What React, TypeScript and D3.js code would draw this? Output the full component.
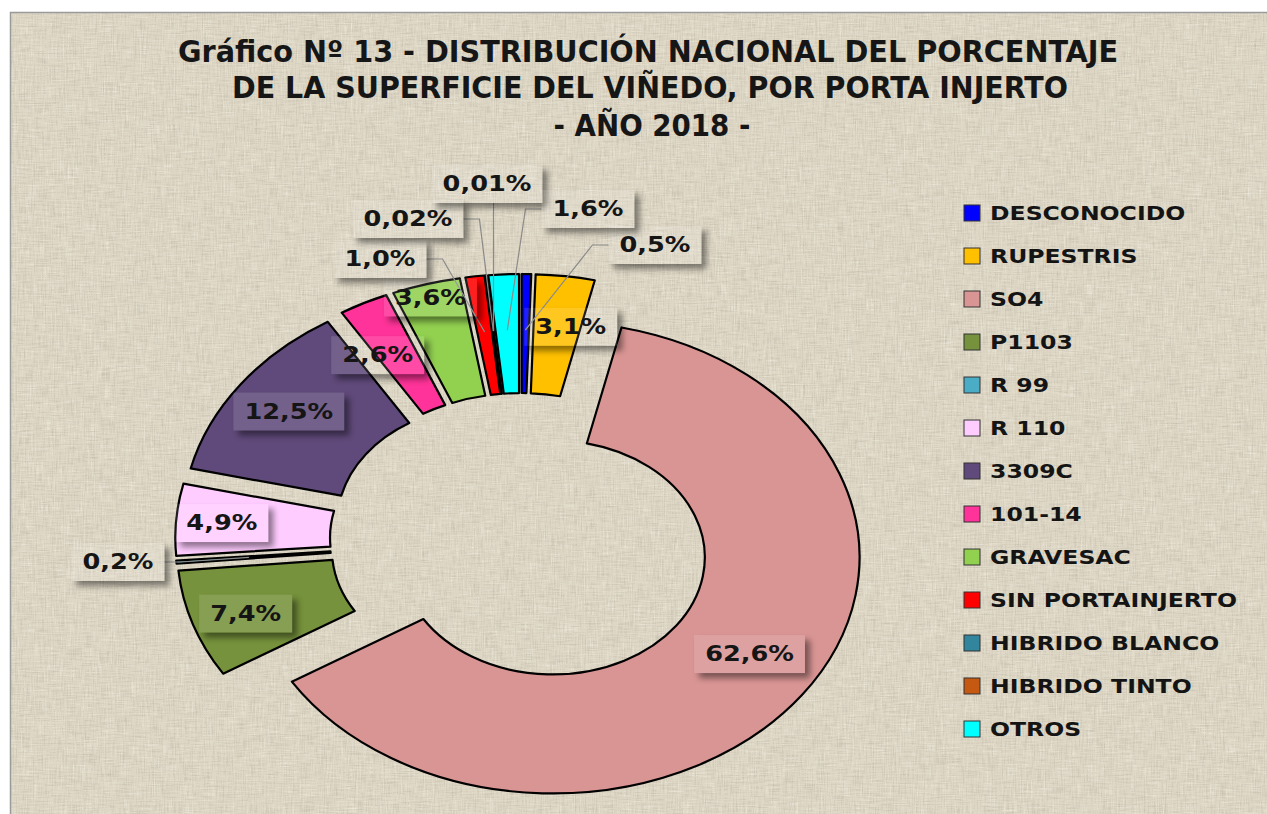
import React from 'react';
import * as d3 from 'd3';

// --- data ---
const categories = [
  'DESCONOCIDO',
  'RUPESTRIS',
  'SO4',
  'P1103',
  'R 99',
  'R 110',
  '3309C',
  '101-14',
  'GRAVESAC',
  'SIN PORTAINJERTO',
  'HIBRIDO BLANCO',
  'HIBRIDO TINTO',
  'OTROS',
];
const shares = [0.5, 3.1, 62.6, 7.4, 0.2, 4.9, 12.5, 2.6, 3.6, 1.0, 0.02, 0.01, 1.6];
const shareLabels = ['0,5%', '3,1%', '62,6%', '7,4%', '0,2%', '4,9%', '12,5%', '2,6%', '3,6%', '1,0%', '0,02%', '0,01%', '1,6%'];
const sliceColors = [
  '#0000ff',
  '#ffc000',
  '#d99594',
  '#76923c',
  '#4bacc6',
  '#ffccff',
  '#604a7b',
  '#ff3399',
  '#92d050',
  '#ff0000',
  '#31859c',
  '#c65911',
  '#00ffff',
];
const titleLines = [
  'Gráfico Nº 13 - DISTRIBUCIÓN NACIONAL  DEL PORCENTAJE',
  'DE LA SUPERFICIE DEL VIÑEDO, POR PORTA INJERTO',
  '- AÑO 2018 -',
];

// --- layout ---
const W = 1267;
const H = 814;
const cx = 521;
const cy = 540;
const rOuter = 236;
const rInner = 117;
const kx = 1.3; // horizontal stretch of the original picture
const explode = 30;
const labelR = 190;
const anchorR = 180;
const textStretch = 1.22;

// labels dragged outside the ring (centre of the text)
const calloutPos: Record<string, [number, number]> = {
  'DESCONOCIDO': [655, 245],
  'R 99': [118, 562],
  'SIN PORTAINJERTO': [380, 259],
  'HIBRIDO BLANCO': [408, 219],
  'HIBRIDO TINTO': [487, 184],
  'OTROS': [588, 209],
};
// small nudges of the labels kept on the slices
const labelNudge: Record<string, [number, number]> = {
  'RUPESTRIS': [13, 5],
  'SO4': [-4, -14],
  'R 110': [-14, 0],
  '101-14': [-13, 11],
  'GRAVESAC': [-12, -31],
  'P1103': [-4, 4],
};

const labelFont = 'bold 21px "DejaVu Sans"';
let ctx: CanvasRenderingContext2D | null = null;
function measure(text: string, font: string) {
  if (!ctx) ctx = document.createElement('canvas').getContext('2d');
  if (!ctx) return text.length * 12;
  ctx.font = font;
  return ctx.measureText(text).width;
}

export default function App() {
  const pie = d3
    .pie<number>()
    .sort(null)
    .value((d) => d)
    .startAngle(0)
    .endAngle(2 * Math.PI);
  const arcs = pie(shares);
  const arcGen = d3
    .arc<d3.PieArcDatum<number>>()
    .innerRadius(rInner)
    .outerRadius(rOuter);

  const slices = arcs.map((a, i) => {
    const mid = (a.startAngle + a.endAngle) / 2;
    const ox = cx + explode * Math.sin(mid) * kx;
    const oy = cy - explode * Math.cos(mid);
    const at = (r: number) => [ox + r * Math.sin(mid) * kx, oy - r * Math.cos(mid)];
    return { a, i, mid, ox, oy, at, name: categories[i] };
  });

  const labels = slices.map((s) => {
    const text = shareLabels[s.i];
    const tw = measure(text, labelFont) * textStretch;
    const bw = tw + 22;
    const bh = 38;
    const outside = calloutPos[s.name];
    let x: number, y: number;
    if (outside) {
      [x, y] = outside;
    } else {
      [x, y] = s.at(labelR);
      const n = labelNudge[s.name];
      if (n) {
        x += n[0];
        y += n[1];
      }
    }
    let leader: string | null = null;
    if (outside) {
      const [ax, ay] = s.at(anchorR);
      const left = x - bw / 2;
      const right = x + bw / 2;
      if (ax > left && ax < right) {
        leader = `M${ax},${y + bh / 2} L${ax},${ay}`;
      } else if (ax >= right) {
        leader = `M${right},${y} L${right + 16},${y} L${ax},${ay}`;
      } else {
        leader = `M${left},${y} L${left - 16},${y} L${ax},${ay}`;
      }
    }
    return { text, x, y, bw, bh, leader, key: s.name, i: s.i };
  });

  const legendY = d3
    .scalePoint<string>()
    .domain(categories)
    .range([213, 729]);

  return (
    <svg width={W} height={H} style={{ display: 'block', position: 'absolute', left: 0, top: 0 }}>
      <defs>
        <filter id="linenDark" x="0" y="0" width="1" height="1">
          <feTurbulence type="fractalNoise" baseFrequency="0.9 0.06" numOctaves="2" seed="4" result="v" />
          <feTurbulence type="fractalNoise" baseFrequency="0.06 0.9" numOctaves="2" seed="9" result="h" />
          <feComposite in="v" in2="h" operator="arithmetic" k1="0" k2="0.5" k3="0.5" k4="0" result="n" />
          <feColorMatrix
            in="n"
            type="matrix"
            values="0 0 0 0 0.45  0 0 0 0 0.41  0 0 0 0 0.33  2.4 0 0 0 -1.05"
          />
        </filter>
        <filter id="linenLight" x="0" y="0" width="1" height="1">
          <feTurbulence type="fractalNoise" baseFrequency="0.7 0.05" numOctaves="2" seed="12" result="v" />
          <feTurbulence type="fractalNoise" baseFrequency="0.05 0.7" numOctaves="2" seed="21" result="h" />
          <feComposite in="v" in2="h" operator="arithmetic" k1="0" k2="0.5" k3="0.5" k4="0" result="n" />
          <feColorMatrix
            in="n"
            type="matrix"
            values="0 0 0 0 0.99  0 0 0 0 0.97  0 0 0 0 0.91  -2.4 0 0 0 1.2"
          />
        </filter>
        <filter id="blurShadow" x="-30%" y="-50%" width="160%" height="200%">
          <feGaussianBlur stdDeviation="3" />
        </filter>
        {labels.map((l) => (
          <mask id={`m${l.i}`} key={l.key} maskUnits="userSpaceOnUse" x="0" y="0" width={W} height={H}>
            <rect x="0" y="0" width={W} height={H} fill="#fff" />
            <rect x={l.x - l.bw / 2} y={l.y - l.bh / 2} width={l.bw} height={l.bh} fill="#000" />
          </mask>
        ))}
      </defs>

      <rect x="0" y="0" width={W} height={H} fill="#fff" />
      <g>
        <rect x="10" y="12" width={W - 10} height={H - 12} fill="#ded7c5" />
        <rect x="10" y="12" width={W - 10} height={H - 12} fill="#000" filter="url(#linenDark)" opacity="0.6" />
        <rect x="10" y="12" width={W - 10} height={H - 12} fill="#000" filter="url(#linenLight)" opacity="0.6" />
        <path d={`M10.5,${H} V12.5 H${W}`} fill="none" stroke="#9a9a9a" strokeWidth="1.5" />
      </g>

      {/* title */}
      <g fontFamily='"Liberation Sans Narrow", "DejaVu Sans Condensed", "Liberation Sans", sans-serif' fontWeight="bold" fontSize="30" fill="#161616" textAnchor="middle">
        <text x={648} y={62} textLength={940} lengthAdjust="spacingAndGlyphs">{titleLines[0]}</text>
        <text x={650} y={98} textLength={836} lengthAdjust="spacingAndGlyphs">{titleLines[1]}</text>
        <text x={652} y={136} textLength={197} lengthAdjust="spacingAndGlyphs">{titleLines[2]}</text>
      </g>

      {/* ring */}
      {slices.map((s) => (
        <g key={s.name} transform={`translate(${s.ox},${s.oy}) scale(${kx},1)`}>
          <path
            d={arcGen(s.a) || ''}
            fill={sliceColors[s.i]}
            stroke="#000"
            strokeWidth={2.2}
            strokeLinejoin="round"
            vectorEffect="non-scaling-stroke"
          />
        </g>
      ))}

      {/* leader lines */}
      {labels.map((l) =>
        l.leader ? <path key={l.key} d={l.leader} fill="none" stroke="#8a8a8a" strokeWidth={1.2} /> : null
      )}

      {/* data labels */}
      {labels.map((l) => (
        <g key={l.key}>
          <g mask={`url(#m${l.i})`}>
            <rect
              x={l.x - l.bw / 2 + 5}
              y={l.y - l.bh / 2 + 5}
              width={l.bw}
              height={l.bh}
              fill="#000"
              opacity={0.45}
              filter="url(#blurShadow)"
            />
          </g>
          <rect x={l.x - l.bw / 2} y={l.y - l.bh / 2} width={l.bw} height={l.bh} fill="#fff" opacity={0.12} />
          <text
            transform={`translate(${l.x},${l.y}) scale(${textStretch},1)`}
            textAnchor="middle"
            dominantBaseline="central"
            fontFamily='"DejaVu Sans", sans-serif'
            fontWeight="bold"
            fontSize={21}
            fill="#151515"
          >
            {l.text}
          </text>
        </g>
      ))}

      {/* legend */}
      <g>
        {categories.map((c, i) => {
          const y = legendY(c) || 0;
          return (
            <g key={c}>
              <rect x={964} y={y - 8} width={16} height={16} fill={sliceColors[i]} stroke="#333" strokeWidth={1} />
              <text
                transform={`translate(990,${y}) scale(1.24,1)`}
                dominantBaseline="central"
                fontFamily='"DejaVu Sans", sans-serif'
                fontWeight="bold"
                fontSize={19}
                fill="#141414"
              >
                {c}
              </text>
            </g>
          );
        })}
      </g>
    </svg>
  );
}
